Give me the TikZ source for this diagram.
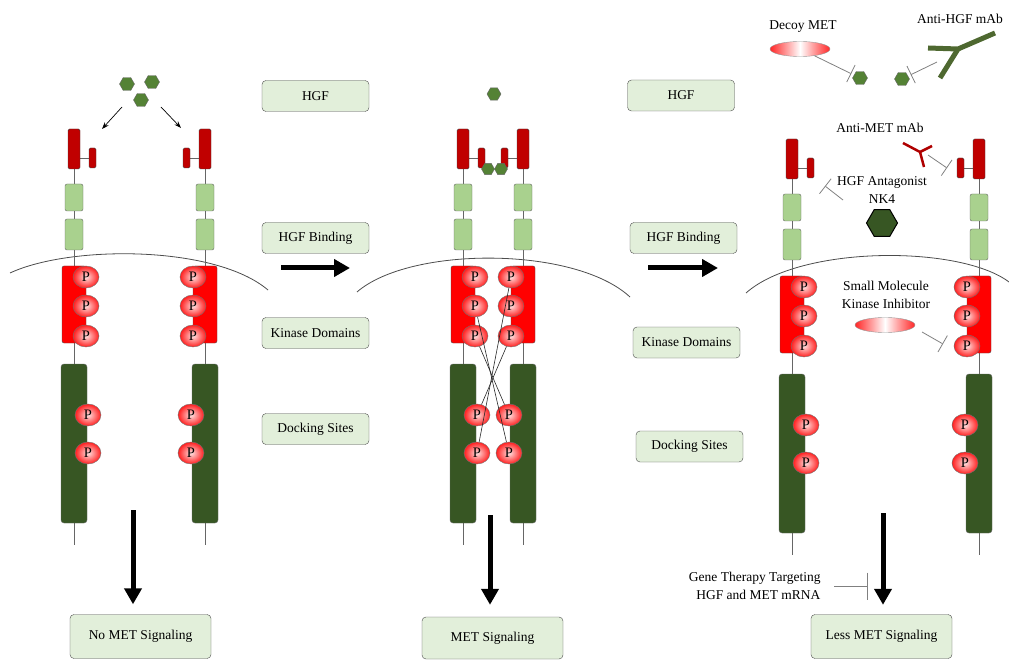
\documentclass[tikz,border=0pt]{standalone}
\usepackage{fontspec}
\setmainfont{Liberation Serif}
\usetikzlibrary{shapes.geometric,arrows.meta}
\definecolor{lblgreen}{RGB}{226,239,218}
\definecolor{hgfgreen}{RGB}{84,130,53}
\definecolor{ectored}{RGB}{192,0,0}
\definecolor{iggreen}{RGB}{169,209,142}
\definecolor{dockgreen}{RGB}{55,86,35}
\definecolor{abgreen}{RGB}{78,104,48}
\definecolor{abred}{RGB}{175,0,0}
\begin{document}
\begin{tikzpicture}[x=1pt,y=-1pt,
  font=\fontsize{13.5}{18}\selectfont,
  lbl/.style={draw=black!70,fill=lblgreen,rounded corners=4pt,minimum width=107pt,minimum height=31pt},
  result/.style={lbl,minimum width=141pt,minimum height=44pt},
  hgf/.style={regular polygon,regular polygon sides=6,minimum size=15pt,inner sep=0pt,draw=black!60,fill=hgfgreen},
  pho/.style={ellipse,minimum width=26pt,minimum height=22pt,inner sep=0pt,draw=black!55,
    inner color=red!12,outer color=red!88,font=\fontsize{14.5}{14}\selectfont},
  chain/.style={draw=black!60,line width=0.8pt},
  ecto/.style={draw=black!75,fill=ectored,rounded corners=1.5pt},
  ig/.style={draw=black!60,fill=iggreen,rounded corners=2pt},
  kin/.style={draw=black!70,fill=red,rounded corners=2pt},
  dock/.style={draw=black!60,fill=dockgreen,rounded corners=3pt},
  drug/.style={ellipse,minimum width=60pt,minimum height=15pt,draw=black!40,
    left color=red!85,right color=red!85,middle color=white},
  inh/.style={draw=black!50,line width=0.8pt,-{Bar[width=19pt]}},
  bigarrow/.style={line width=5pt,-{Triangle[length=16pt,width=17pt]}},
  hgfarrow/.style={line width=0.7pt,-{Stealth[length=7pt,width=5pt]}},
  membrane/.style={draw=black!70,line width=0.8pt}]
\useasboundingbox (0,0) rectangle (1009,660);

% cell membranes
\draw[membrane] (10,273) .. controls (70,245) and (215,245) .. (268,290);
\draw[membrane] (357,292) .. controls (410,246) and (575,246) .. (630,297);
\draw[membrane] (746,293) .. controls (800,245) and (960,245) .. (1009,282);

% MET receptors: chain x / side / shift / name
\foreach \c/\s/\dy/\r in {74/1/0/a1,205/-1/0/a2,463/1/0/b1,523/-1/0/b2,792/1/10/c1,979/-1/10/c2}{
  \draw[chain] (\c,169+\dy) -- (\c,545+\dy);
  \draw[chain] (\c,158+\dy) -- ({\c+18*\s},158+\dy);
  \draw[ecto] (\c-6,129+\dy) rectangle (\c+6,169+\dy);
  \draw[ecto] ({\c+15*\s},148+\dy) rectangle ({\c+22*\s},168+\dy);
  \draw[ig] (\c-9,184+\dy) rectangle (\c+9,211+\dy);
  \draw[ig] (\c-9,219+\dy) rectangle (\c+9,250+\dy);
  \draw[kin] (\c-12,266+\dy) rectangle (\c+12,343+\dy);
  \draw[dock] (\c-13,364+\dy) rectangle (\c+13,523+\dy);
  \node[pho] (\r-k1) at ({\c+12*\s},277+\dy) {P};
  \node[pho] (\r-k2) at ({\c+12*\s},306+\dy) {P};
  \node[pho] (\r-k3) at ({\c+12*\s},336+\dy) {P};
  \node[pho] (\r-d1) at ({\c+14*\s},415+\dy) {P};
  \node[pho] (\r-d2) at ({\c+14*\s},453+\dy) {P};
}

% trans-phosphorylation
\draw[black!85,line width=0.6pt] (b1-k2) -- (b2-d2);
\draw[black!85,line width=0.6pt] (b1-k3) -- (b2-d1);
\draw[black!85,line width=0.6pt] (b2-k1) -- (b1-d2);
\draw[black!85,line width=0.6pt] (b2-k3) -- (b1-d1);

% HGF
\node[hgf] (h1) at (127,84) {};
\node[hgf] (h2) at (152,82) {};
\node[hgf] (h3) at (141,100) {};
\coordinate (hgfl) at (122,107);
\coordinate (hgfr) at (161,107);
\coordinate (a1top) at (102,129);
\coordinate (a2top) at (181,128);
\draw[hgfarrow] (hgfl) -- (a1top);
\draw[hgfarrow] (hgfr) -- (a2top);
\node[hgf,minimum size=14pt] (h4) at (494,94) {};
\node[hgf,minimum size=13pt] (h5) at (488,169) {};
\node[hgf,minimum size=13pt] (h6) at (501,169) {};
\node[hgf] (h7) at (860,78) {};
\node[hgf] (h8) at (902,79) {};

% labels
\node[lbl] (hgf1) at (315.5,96) {HGF};
\node[lbl] (bind1) at (315.5,238) {HGF Binding};
\node[lbl] (kin1) at (315.5,333) {Kinase Domains};
\node[lbl] (dock1) at (315.5,429) {Docking Sites};
\node[lbl] (hgf2) at (681,95.5) {HGF};
\node[lbl] (bind2) at (683.5,238) {HGF Binding};
\node[lbl] (kin2) at (686.5,342.5) {Kinase Domains};
\node[lbl] (dock2) at (689.5,446.5) {Docking Sites};

\node[result] (nosig) at (140.5,636.5) {No MET Signaling};
\node[result,minimum height=42pt] (sig) at (492.5,638) {MET Signaling};
\node[result] (lesssig) at (881.5,636.5) {Less MET Signaling};

% steps
\coordinate (ab1) at (281,268);
\coordinate (ab2) at (350,268);
\coordinate (bc1) at (648,268);
\coordinate (bc2) at (718,268);
\draw[bigarrow] (ab1) -- (ab2);
\draw[bigarrow] (bc1) -- (bc2);
\coordinate (adown) at (133,510);
\coordinate (bdown) at (490,515);
\coordinate (cdown) at (883,513);
\draw[bigarrow,shorten >=10pt] (adown) -- (adown |- nosig.north);
\draw[bigarrow,shorten >=12pt] (bdown) -- (bdown |- sig.north);
\draw[bigarrow,shorten >=9.5pt] (cdown) -- (cdown |- lesssig.north);

% inhibitors
\node (decoylbl) at (803,27) {Decoy MET};
\node[drug] (decoy) at (800,49) {};
\draw[inh,shorten >=3pt] (decoy.-25) -- (h7);

\node (hgfablbl) at (960,19) {Anti-HGF mAb};
\draw[abgreen,line width=5pt] (928,48) -- (958,49) -- (995,33);
\draw[abgreen,line width=5pt] (958,49) -- (940,78);
\coordinate (hgfab) at (937,62);
\draw[inh,shorten >=3pt] (hgfab) -- (h8);

\node (metablbl) at (880,128) {Anti-MET mAb};
\draw[abred,line width=2.5pt] (903,143) -- (920,152) -- (932,146);
\draw[abred,line width=2.5pt] (920,152) -- (924,167);
\coordinate (metab) at (928,155);
\coordinate (c2ecto) at (947,168);
\draw[inh] (metab) -- (c2ecto);

\node[align=center] (nk4lbl) at (882,190) {HGF Antagonist\\NK4};
\node[hgf,minimum size=31pt,fill=dockgreen,draw=black,line width=1pt] (nk4) at (882,223) {};
\coordinate (nk4a) at (843,200);
\coordinate (c1ig) at (825,186);
\draw[inh] (nk4a) -- (c1ig);

\node[align=center] (smilbl) at (886,295) {Small Molecule\\Kinase Inhibitor};
\node[drug] (smi) at (885,325) {};
\coordinate (smia) at (922,332);
\coordinate (c2kin) at (943,344);
\draw[inh] (smia) -- (c2kin);

\node[align=right,anchor=east] (genelbl) at (824,586) {Gene Therapy Targeting\\HGF and MET mRNA};
\draw[inh,-{Bar[width=27pt]}] ([xshift=10pt]genelbl.east) -- ++(34,0);
\end{tikzpicture}
\end{document}
